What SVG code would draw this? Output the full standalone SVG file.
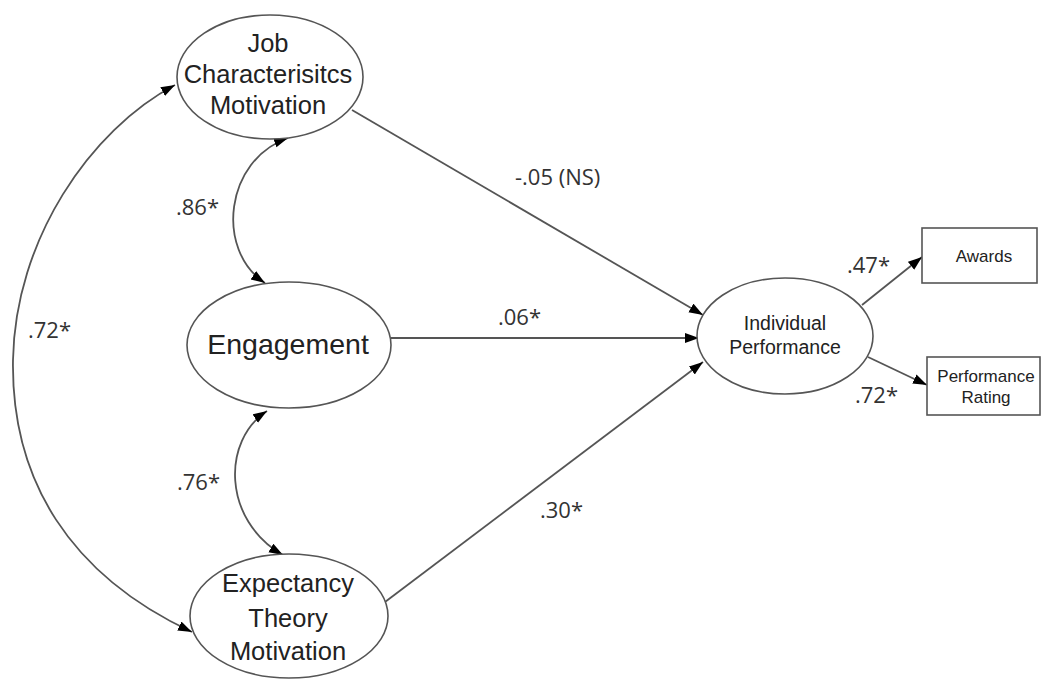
<svg xmlns="http://www.w3.org/2000/svg" width="1041" height="681" viewBox="0 0 1041 681">
<style>
.node{fill:#fff;stroke:#555;stroke-width:1.6}
.conn{fill:none;stroke:#555;stroke-width:1.8}
.t{font-family:"Liberation Sans",Arial,sans-serif;fill:#222;text-anchor:middle}
.lbl{font-family:"Open Sans","Liberation Sans",sans-serif;fill:#333;font-size:22px}
</style>
<defs>
<marker id="ah" markerUnits="userSpaceOnUse" markerWidth="15" markerHeight="11" refX="14" refY="5" orient="auto-start-reverse">
<path d="M0,0 L14,5 L0,10 z" fill="#000"/>
</marker>
</defs>
<rect width="1041" height="681" fill="#fff"/>
<g id="connectors">
<line class="conn" x1="352" y1="110" x2="703" y2="315" marker-end="url(#ah)"/>
<line class="conn" x1="391" y1="338" x2="699" y2="338" marker-end="url(#ah)"/>
<line class="conn" x1="385" y1="602" x2="703" y2="362" marker-end="url(#ah)"/>
<line class="conn" x1="862" y1="305" x2="922" y2="257" marker-end="url(#ah)"/>
<line class="conn" x1="868" y1="357" x2="927" y2="385" marker-end="url(#ah)"/>
<path class="conn" d="M265 283 C215 250 225 160 288 138" marker-start="url(#ah)" marker-end="url(#ah)"/>
<path class="conn" d="M267 411 C222 440 222 520 283 555" marker-start="url(#ah)" marker-end="url(#ah)"/>
<path class="conn" d="M175 85 C90 130 15 240 13 360 C11 480 70 575 192 632" marker-start="url(#ah)" marker-end="url(#ah)"/>
</g>
<g id="job">
<ellipse class="node" cx="270" cy="77" rx="93" ry="62"/>
<text class="t" font-size="25.5" x="268" y="52">Job</text>
<text class="t" font-size="25.5" x="268" y="83">Characterisitcs</text>
<text class="t" font-size="25.5" x="268" y="114">Motivation</text>
</g>
<g id="engagement">
<ellipse class="node" cx="289" cy="345" rx="102" ry="63"/>
<text class="t" font-size="28.5" x="288" y="354">Engagement</text>
</g>
<g id="expectancy">
<ellipse class="node" cx="289" cy="616" rx="99" ry="62"/>
<text class="t" font-size="25.5" x="288" y="592">Expectancy</text>
<text class="t" font-size="25.5" x="288" y="627">Theory</text>
<text class="t" font-size="25.5" x="288" y="660">Motivation</text>
</g>
<g id="individual-performance">
<ellipse class="node" cx="785" cy="336" rx="88" ry="58"/>
<text class="t" font-size="19.5" x="785" y="330" fill="#333">Individual</text>
<text class="t" font-size="19.5" x="785" y="354" fill="#333">Performance</text>
</g>
<g id="awards">
<rect class="node" x="922" y="228" width="115" height="55"/>
<text class="t" font-size="17" x="984" y="262" fill="#333">Awards</text>
</g>
<g id="performance-rating">
<rect class="node" x="927" y="357" width="113" height="58"/>
<text class="t" font-size="17" x="986" y="382" fill="#333">Performance</text>
<text class="t" font-size="17" x="986" y="403" fill="#333">Rating</text>
</g>
<g id="labels">
<text class="lbl" x="515" y="185" font-size="27">-.05 (NS)</text>
<text class="lbl" x="498" y="325" font-size="24">.06*</text>
<text class="lbl" x="540" y="518">.30*</text>
<text class="lbl" x="176" y="215">.86*</text>
<text class="lbl" x="28" y="338">.72*</text>
<text class="lbl" x="177" y="490">.76*</text>
<text class="lbl" x="847" y="273">.47*</text>
<text class="lbl" x="855" y="403">.72*</text>
</g>
</svg>
